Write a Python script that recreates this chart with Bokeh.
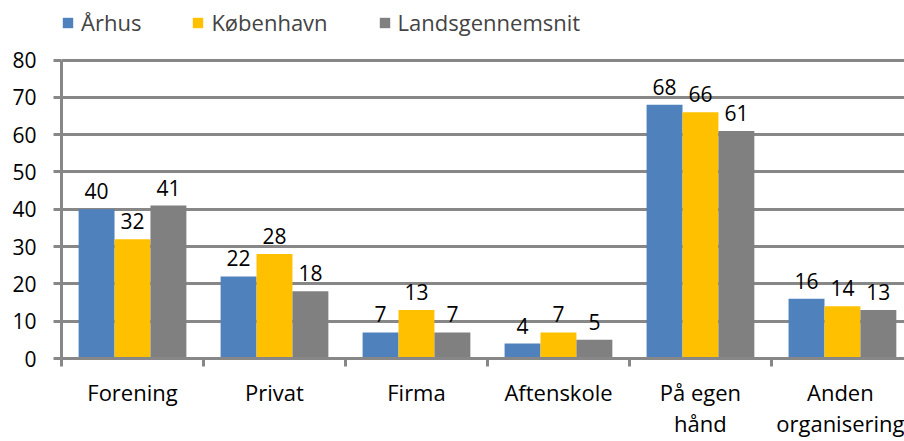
from bokeh.plotting import figure
from bokeh.models import Range1d, FixedTicker, Legend, LegendItem, ColumnDataSource
from bokeh.core.properties import value
from bokeh.embed import file_html
from bokeh.resources import INLINE
import numpy as np

categories = ["Forening", "Privat", "Firma", "Aftenskole", "På egen\nhånd", "Anden\norganisering"]
series_names = ["Århus", "København", "Landsgennemsnit"]
aarhus = [40, 22, 7, 4, 68, 16]
kobenhavn = [32, 28, 13, 7, 66, 14]
landsgennemsnit = [41, 18, 7, 5, 61, 13]
y_ticks = [0, 10, 20, 30, 40, 50, 60, 70, 80]

colors = ["#4F81BD", "#FFC000", "#808080"]
FONT = "Open Sans"
GRID = "#878787"

p = figure(width=904, height=441, output_backend="svg", toolbar_location=None,
           x_range=Range1d(0, 5.937), y_range=Range1d(0, 94.1),
           min_border_left=61, min_border_right=0, min_border_top=7, min_border_bottom=83)
p.outline_line_color = None
p.background_fill_color = "white"

centers = np.arange(len(categories)) + 0.5
bw = 0.253
offsets = [-bw, 0.0, bw]
renderers = []
for vals, off, col in zip([aarhus, kobenhavn, landsgennemsnit], offsets, colors):
    src = ColumnDataSource(dict(x=centers + off, top=vals, lbl=[str(v) for v in vals]))
    r = p.vbar(x="x", top="top", width=bw, source=src, fill_color=col, line_color=None)
    renderers.append(r)
    p.text(x="x", y="top", text="lbl", source=src, text_align="center",
           text_baseline="alphabetic", y_offset=-18, text_font=value(FONT),
           text_font_size="21px", text_color="black")

# y axis
p.yaxis.ticker = FixedTicker(ticks=y_ticks)
p.yaxis.bounds = (0, 80)
p.yaxis.axis_line_color = GRID
p.yaxis.axis_line_width = 3
p.yaxis.major_tick_line_color = GRID
p.yaxis.major_tick_line_width = 3
p.yaxis.major_tick_out = 8
p.yaxis.major_tick_in = 0
p.yaxis.minor_tick_line_color = None
p.yaxis.major_label_standoff = 17
p.yaxis.major_label_text_font = FONT
p.yaxis.major_label_text_font_size = "21px"
p.yaxis.major_label_text_color = "black"
p.ygrid.grid_line_color = GRID
p.ygrid.grid_line_width = 3
p.xgrid.grid_line_color = None

# x axis: labels at category centres, boundary marks as minor ticks
p.xaxis.ticker = FixedTicker(ticks=list(centers), minor_ticks=list(range(len(categories) + 1)))
p.xaxis.major_label_overrides = {float(c): lab for c, lab in zip(centers, categories)}
p.xaxis.axis_line_color = GRID
p.xaxis.axis_line_width = 3
p.xaxis.major_tick_out = 0
p.xaxis.major_tick_in = 0
p.xaxis.major_tick_line_color = None
p.xaxis.minor_tick_out = 8
p.xaxis.minor_tick_in = 0
p.xaxis.minor_tick_line_color = GRID
p.xaxis.minor_tick_line_width = 3
p.xaxis.major_label_standoff = 10
p.xaxis.major_label_text_font = FONT
p.xaxis.major_label_text_font_size = "22px"
p.xaxis.major_label_text_color = "black"
p.xaxis.major_label_text_line_height = 1.05

legend = Legend(items=[LegendItem(label=n, renderers=[r]) for n, r in zip(series_names, renderers)],
                location="top_left", orientation="horizontal", margin=0, padding=1,
                glyph_width=13, glyph_height=13, label_standoff=7, spacing=50,
                label_text_font=FONT, label_text_font_size="22px",
                background_fill_alpha=0, border_line_color=None)
p.add_layout(legend)

open("out.html", "w").write(file_html(p, INLINE))
